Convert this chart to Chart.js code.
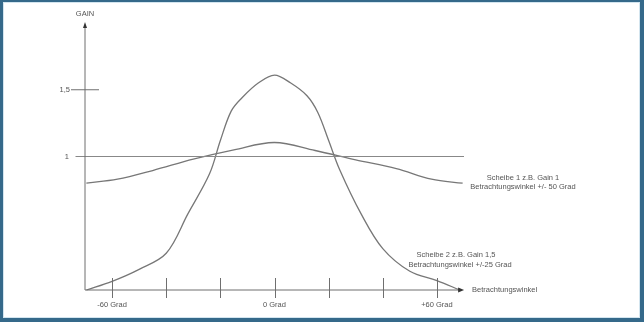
<!DOCTYPE html>
<html>
<head>
<meta charset="utf-8">
<title>Gain / Betrachtungswinkel</title>
<script src="https://cdn.jsdelivr.net/npm/chart.js@4"></script>
<style>
  body { margin: 0; background: #fff; }
  #wrap { position: relative; width: 644px; height: 322px; }
  #frame {
    position: absolute; left: 0; top: 0; right: 0; bottom: 0;
    border-style: solid; border-color: #35698a;
    border-width: 2px 4px 4px 3px;
    box-shadow: inset 0 0 0 1px #d3e5ef;
    pointer-events: none;
  }
</style>
</head>
<body>
<div id="wrap">
  <canvas id="gainChart" width="644" height="322"></canvas>
  <div id="frame"></div>
</div>
<script>
// Scheibe 1: Gain 1, +/- 50 Grad
var winkelScheibe1 = [-69.5, -58, -45, -30, -15, 0, 15, 30, 45, 58, 69.5];
var gainScheibe1 = [0.80, 0.83, 0.895, 0.98, 1.05, 1.105, 1.045, 0.975, 0.91, 0.83, 0.80];

// Scheibe 2: Gain 1,5, +/- 25 Grad
var winkelScheibe2 = [-69.5, -60, -50, -40, -32, -24, -20, -16, -12, -6, 0, 6, 12, 16, 20, 24, 32, 40, 50, 60, 68.5];
var gainScheibe2 = [0, 0.065, 0.155, 0.275, 0.57, 0.87, 1.12, 1.34, 1.44, 1.55, 1.61, 1.55, 1.455, 1.33, 1.12, 0.905, 0.57, 0.31, 0.14, 0.07, 0];

var xTicks = [-60, -40, -20, 0, 20, 40, 60];
var xTickLabels = { "-60": "-60 Grad", "0": "0 Grad", "60": "+60 Grad" };
var referenzWinkel = [-73.5, 70];
var referenzGain = [1, 1];

function toPoints(xs, ys) {
  return xs.map(function(x, i) {
    return { x: x, y: ys[i] };
  });
}

var lineColor = "#777";
var textColor = "#555";
var font = "7.5px 'Liberation Sans', Arial, sans-serif";

var axesPlugin = {
  id: "axes",
  afterDatasetsDraw: function(chart) {
    var ctx = chart.ctx;
    var xs = chart.scales.x;
    var ys = chart.scales.y;
    var x0 = xs.getPixelForValue(-70);
    var y0 = ys.getPixelForValue(0);
    var xEnd = xs.getPixelForValue(69.3);
    var yTop = ys.getPixelForValue(2);

    ctx.save();
    ctx.strokeStyle = "#6f6f6f";
    ctx.fillStyle = "#333";
    ctx.lineWidth = 1;

    // y axis
    ctx.beginPath();
    ctx.moveTo(x0, y0);
    ctx.lineTo(x0, yTop + 3);
    ctx.stroke();
    ctx.beginPath();
    ctx.moveTo(x0, yTop - 1);
    ctx.lineTo(x0 - 2, yTop + 5);
    ctx.lineTo(x0 + 2, yTop + 5);
    ctx.closePath();
    ctx.fill();

    // x axis
    ctx.beginPath();
    ctx.moveTo(x0, y0);
    ctx.lineTo(xEnd - 3, y0);
    ctx.stroke();
    ctx.beginPath();
    ctx.moveTo(xEnd + 2, y0);
    ctx.lineTo(xEnd - 4, y0 - 2.5);
    ctx.lineTo(xEnd - 4, y0 + 2.5);
    ctx.closePath();
    ctx.fill();

    // tick marks
    xTicks.forEach(function(t) {
      var px = Math.round(xs.getPixelForValue(t)) + 0.5;
      ctx.beginPath();
      ctx.moveTo(px, y0 - 12);
      ctx.lineTo(px, y0 + 8);
      ctx.stroke();
    });
    var y15 = ys.getPixelForValue(1.5);
    ctx.beginPath();
    ctx.moveTo(x0 - 14, y15);
    ctx.lineTo(x0 + 14, y15);
    ctx.stroke();

    // texts
    ctx.fillStyle = textColor;
    ctx.font = font;
    ctx.textBaseline = "middle";
    ctx.textAlign = "center";
    ctx.fillText("GAIN", x0, 13.5);
    xTicks.forEach(function(t) {
      var label = xTickLabels[String(t)];
      if (label) {
        ctx.fillText(label, xs.getPixelForValue(t), y0 + 15);
      }
    });
    ctx.textAlign = "right";
    ctx.fillText("1,5", x0 - 15, y15);
    ctx.fillText("1", x0 - 16, ys.getPixelForValue(1));
    ctx.textAlign = "left";
    ctx.fillText("Betrachtungswinkel", xEnd + 10, y0);
    ctx.textAlign = "center";
    ctx.fillText("Scheibe 1 z.B. Gain 1", 523, 178);
    ctx.fillText("Betrachtungswinkel +/- 50 Grad", 523, 187);
    ctx.fillText("Scheibe 2 z.B. Gain 1,5", 456, 255);
    ctx.fillText("Betrachtungswinkel +/-25 Grad", 460, 265);
    ctx.restore();
  }
};

var ctx = document.getElementById("gainChart").getContext("2d");
var gainChart = new Chart(ctx, {
  type: "line",
  data: {
    datasets: [{
      label: "Gain 1",
      data: toPoints(referenzWinkel, referenzGain),
      borderColor: "#888",
      borderWidth: 1,
      pointRadius: 0,
      clip: false
    }, {
      label: "Scheibe 1",
      data: toPoints(winkelScheibe1, gainScheibe1),
      borderColor: lineColor,
      borderWidth: 1.3,
      pointRadius: 0,
      tension: 0.35
    }, {
      label: "Scheibe 2",
      data: toPoints(winkelScheibe2, gainScheibe2),
      borderColor: lineColor,
      borderWidth: 1.3,
      pointRadius: 0,
      tension: 0.35,
      clip: false
    }]
  },
  options: {
    responsive: false,
    animation: false,
    layout: {
      padding: { left: 85, right: 180, top: 23, bottom: 32 }
    },
    plugins: {
      legend: { display: false },
      tooltip: { enabled: false }
    },
    scales: {
      x: { type: "linear", min: -70, max: 70, display: false },
      y: { min: 0, max: 2, display: false }
    }
  },
  plugins: [axesPlugin]
});
</script>
</body>
</html>
